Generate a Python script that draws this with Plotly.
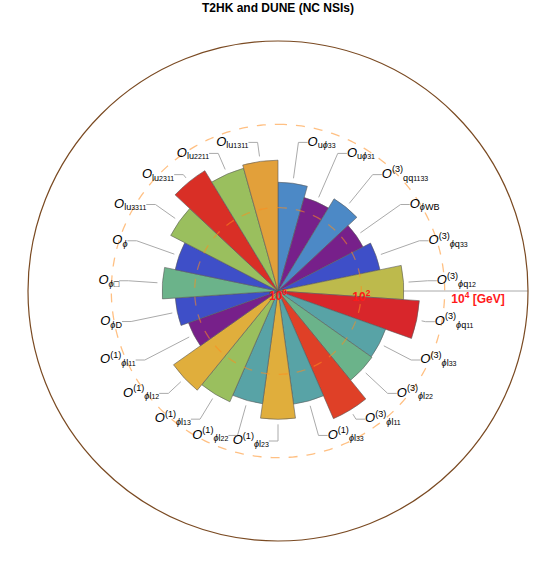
import numpy as np
import plotly.graph_objects as go


def op(sub, idx="", sup=""):
    s = "<i>O</i>"
    if sup:
        s += "<sup>" + sup + "</sup>"
    s += "<sub>" + sub
    if idx:
        s += "<span style='font-size:7px'>" + idx + "</span>"
    return s + "</sub>"


PHI = "<i>ϕ</i>"

# operators, clockwise from 12 o'clock
labels = [
    op("u" + PHI, "33"),
    op("u" + PHI, "31"),
    op("qq", "1133", "(3)"),
    op(PHI + "WB"),
    op(PHI + "q", "33", "(3)"),
    op(PHI + "q", "12", "(3)"),
    op(PHI + "q", "11", "(3)"),
    op(PHI + "l", "33", "(3)"),
    op(PHI + "l", "22", "(3)"),
    op(PHI + "l", "11", "(3)"),
    op(PHI + "l", "33", "(1)"),
    op(PHI + "l", "23", "(1)"),
    op(PHI + "l", "22", "(1)"),
    op(PHI + "l", "13", "(1)"),
    op(PHI + "l", "12", "(1)"),
    op(PHI + "l", "11", "(1)"),
    op(PHI + "D"),
    op(PHI + "□"),
    op(PHI),
    op("lu", "3311"),
    op("lu", "2311"),
    op("lu", "2211"),
    op("lu", "1311"),
]

# log10 of the scale in GeV
log_scale = [2.61, 2.33, 2.59, 2.30, 2.50, 3.02, 3.40, 2.74, 2.76, 3.34, 2.74, 3.08,
             2.73, 2.90, 3.07, 2.28, 2.47, 2.78, 2.52, 2.90, 3.38, 3.06, 3.14]

colors = ["#4C89C6", "#77208A", "#4C89C6", "#77208A", "#3E4FC8", "#BDBA4C",
          "#D8262B", "#58A3A6", "#6BB38A", "#DF4027", "#58A3A6", "#E0AE3C",
          "#58A3A6", "#9ABF5E", "#E0AE3C", "#77208A", "#3E4FC8", "#6BB38A",
          "#3E4FC8", "#9ABF5E", "#D92F26", "#9ABF5E", "#E2A03A"]

tick_r = [0, 2, 4]
tick_text = ["<b>10<sup>0</sup></b>", "<b>10<sup>2</sup></b>", "<b>  10<sup>4</sup> [GeV]</b>"]

n = len(labels)
width = 360 / n
theta = [(i + 0.5) * width for i in range(n)]

fig = go.Figure()

fig.add_trace(go.Barpolar(
    r=log_scale, theta=theta, width=[width] * n,
    marker=dict(color=colors, line=dict(color="#5a5a5a", width=0.6)),
    hoverinfo="skip",
))

# dashed guide circles on top of the bars
ring = np.linspace(0, 360, 361)
for rv in tick_r[1:]:
    fig.add_trace(go.Scatterpolar(
        r=[rv] * len(ring), theta=ring, mode="lines",
        line=dict(color="rgba(255,140,30,0.55)", width=1.3, dash="dash"),
        hoverinfo="skip",
    ))

# leader lines + labels
lr, lt, tx_r, tx_t, tx_pos = [], [], [], [], []
elbow = 3.6
for v, t in zip(log_scale, theta):
    side = 1 if t < 179.9 else -1
    a = np.radians(t)
    r0 = v + 0.12
    r1 = max(elbow, v + 0.22)
    ex, ey = r1 * np.sin(a), r1 * np.cos(a)
    fx, fy = ex + side * 0.22, ey
    fr, ft = np.hypot(fx, fy), np.degrees(np.arctan2(fx, fy)) % 360
    lr += [r0, r1, fr, None]
    lt += [t, t, ft, None]
    tx_r.append(fr)
    tx_t.append(ft)
    tx_pos.append("middle right" if side > 0 else "middle left")

fig.add_trace(go.Scatterpolar(
    r=lr, theta=lt, mode="lines", line=dict(color="#AAAAAA", width=1),
    connectgaps=False, hoverinfo="skip",
))
fig.add_trace(go.Scatterpolar(
    r=tx_r, theta=tx_t, mode="text", text=labels, textposition=tx_pos,
    textfont=dict(family="Liberation Sans, Arial", size=13, color="black"),
    hoverinfo="skip",
))

# radial tick labels, just under the radial axis line
fig.add_trace(go.Scatterpolar(
    r=tick_r, theta=[90, 91, 91.2], mode="text", text=tick_text,
    textposition=["bottom center", "bottom center", "bottom right"],
    textfont=dict(family="Liberation Sans, Arial", size=12, color="#FF1A1A"),
    hoverinfo="skip",
))

fig.update_layout(
    width=556, height=570,
    margin=dict(l=28, r=28, t=41, b=29),
    paper_bgcolor="white",
    showlegend=False,
    title=dict(text="<b>T2HK and DUNE (NC NSIs)</b>", x=0.5, xanchor="center",
               y=0.986, yanchor="middle",
               font=dict(family="Liberation Sans, Arial", size=12, color="black")),
    polar=dict(
        bgcolor="white",
        domain=dict(x=[0, 1], y=[0, 1]),
        angularaxis=dict(rotation=90, direction="clockwise", showgrid=False,
                         showticklabels=False, ticks="", showline=True,
                         linecolor="#7A4A22", linewidth=1.2),
        radialaxis=dict(range=[0, 6], angle=0, showline=True, linecolor="#AAAAAA",
                        linewidth=1, showgrid=False, showticklabels=False, ticks="",
                        layer="below traces"),
    ),
)

fig.write_html("out.html", config={"displayModeBar": False},
               post_script="document.body.style.margin='0px';")
